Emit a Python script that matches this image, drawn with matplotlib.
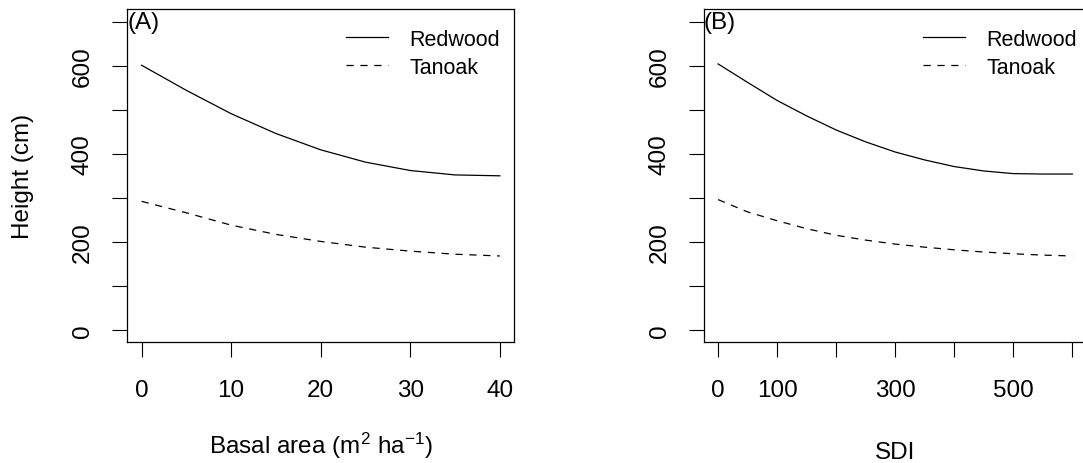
import matplotlib
matplotlib.use("Agg")
import matplotlib.pyplot as plt

plt.rcParams['font.family'] = ['Liberation Sans', 'DejaVu Sans']
plt.rcParams['mathtext.default'] = 'regular'

# panel A: basal area (m2/ha)
ba = [0, 5, 10, 15, 20, 25, 30, 35, 40]
ba_redwood = [601, 544, 491, 446, 409, 381, 362, 352, 350]
ba_tanoak = [292, 266, 238, 217, 201, 188, 179, 172, 168]

# panel B: SDI
sdi = [0, 50, 100, 150, 200, 250, 300, 350, 400, 450, 500, 550, 600]
sdi_redwood = [604, 562, 521, 486, 454, 427, 404, 386, 371, 361, 355, 354, 354]
sdi_tanoak = [296, 268, 248, 230, 215, 204, 195, 188, 182, 177, 173, 170, 168]

fig = plt.figure(figsize=(10.83, 4.64), dpi=100)
ax1 = fig.add_axes([0.1175, 0.2601, 0.3573, 0.7177])
ax2 = fig.add_axes([0.6500, 0.2601, 0.3532, 0.7177])

dash = (0, (5.8, 5.3))
fs = 17.5

panels = [
    (ax1, ba, ba_redwood, ba_tanoak, '(A)', [0, 10, 20, 30, 40], ['0', '10', '20', '30', '40'],
     'Basal area (m$^{2}$ ha$^{-1}$)', 21, 0.565),
    (ax2, sdi, sdi_redwood, sdi_tanoak, '(B)', [0, 100, 200, 300, 400, 500, 600],
     ['0', '100', '', '300', '', '500', ''], 'SDI', 28.5, 0.5725),
]

for ax, x, red, tan, tag, xt, xtl, xlab, lpad, legx in panels:
    ax.plot(x, red, color='black', lw=0.9, label='Redwood')
    ax.plot(x, tan, color='black', lw=0.9, linestyle=dash, label='Tanoak')
    pad = 0.04 * (x[-1] - x[0])
    ax.set_xlim(x[0] - pad, x[-1] + pad)
    ax.set_ylim(-28, 728)
    ax.set_xticks(xt)
    ax.set_xticklabels(xtl, fontsize=fs)
    ax.set_yticks([0, 100, 200, 300, 400, 500, 600, 700])
    ax.set_yticklabels(['0', '', '200', '', '400', '', '600', ''], fontsize=fs,
                       rotation=90, va='center')
    ax.tick_params(axis='both', direction='out', length=11, width=0.8, color='black')
    ax.tick_params(axis='x', pad=15.5)
    ax.tick_params(axis='y', pad=13)
    for s in ax.spines.values():
        s.set_linewidth(0.9)
        s.set_color('black')
    ax.set_xlabel(xlab, fontsize=fs, labelpad=lpad)
    ax.text(0, 700, tag, transform=ax.get_yaxis_transform(), fontsize=fs,
            ha='left', va='center')
    ax.legend(loc='upper left', bbox_to_anchor=(legx, 0.942), frameon=False,
              fontsize=15.5, handlelength=1.97, handletextpad=0.98,
              labelspacing=0.32, borderpad=0, borderaxespad=0)

ax1.set_ylabel('Height (cm)', fontsize=fs, labelpad=27)

fig.savefig('out.png', dpi=100)
